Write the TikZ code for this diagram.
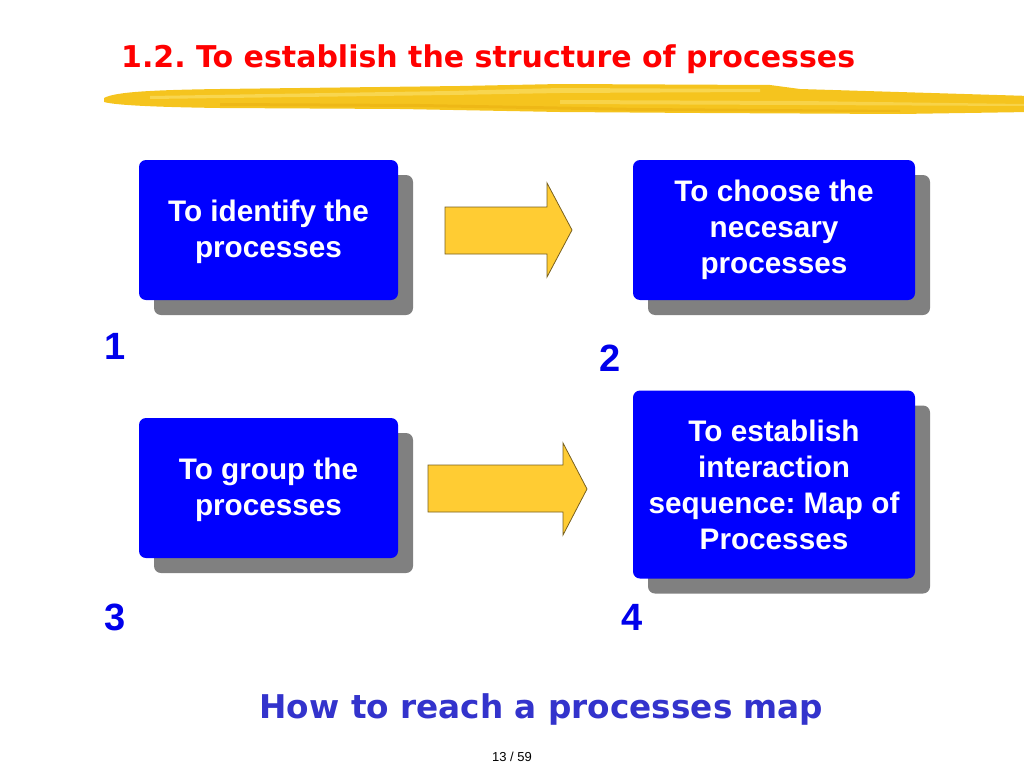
\documentclass[tikz,border=0pt]{standalone}
\usepackage{fontspec}
\setmainfont{Liberation Sans}
\newfontfamily\headfont{DejaVu Sans}
\usetikzlibrary{shadows}
\definecolor{boxblue}{RGB}{0,0,255}
\definecolor{shadowgray}{RGB}{128,128,128}
\definecolor{arrowyellow}{RGB}{255,204,51}
\definecolor{arrowline}{RGB}{120,96,30}
\definecolor{titlered}{RGB}{255,0,0}
\definecolor{numblue}{RGB}{0,0,235}
\definecolor{mapblue}{RGB}{51,51,204}
\definecolor{brushyellow}{RGB}{245,196,30}
\definecolor{brushlight}{RGB}{250,222,100}
\definecolor{brushdark}{RGB}{236,180,20}
\frenchspacing
\begin{document}
\begin{tikzpicture}[x=1pt, y=-1pt,
    stepbox/.style={rectangle, rounded corners=7pt, fill=boxblue, text=white, align=center,
      font=\bfseries\fontsize{29.7}{36}\selectfont, inner sep=0pt,
      general shadow={fill=shadowgray, shadow xshift=15pt, shadow yshift=-15pt}},
    blockarrow/.style={fill=arrowyellow, draw=arrowline, line width=0.8pt, line join=miter},
    num/.style={text=numblue, font=\bfseries\fontsize{38}{38}\selectfont, inner sep=0pt}]
    \useasboundingbox (0,0) rectangle (1024,768);

    % brush stroke under the title
    \fill[brushyellow] (104,98) .. controls (115,92) and (150,90) .. (220,89) -- (460,86) -- (560,84) -- (770,85) -- (800,89) -- (1030,96)
      -- (1030,112) -- (900,114) -- (700,113) -- (560,112) -- (400,109) -- (220,108) .. controls (150,107) and (115,105) .. (104,102) -- cycle;
    \fill[brushlight, opacity=0.7] (150,96) -- (450,91) -- (560,88) -- (760,89) -- (760,92) -- (560,93) -- (450,95) -- (150,99) -- cycle;
    \fill[brushlight, opacity=0.6] (560,100) -- (800,101) -- (1024,104) -- (1024,106) -- (800,105) -- (560,104) -- cycle;
    \fill[brushdark, opacity=0.7] (220,103) -- (420,104) -- (640,108) -- (900,110) -- (900,112) -- (640,111) -- (420,107) -- (220,106) -- cycle;

    \node[anchor=base west, inner sep=0pt, text=titlered, font=\headfont\bfseries\fontsize{30}{30}\selectfont] (title) at (121,67) {1.2. To establish the structure of processes};

    \node[stepbox, minimum width=259pt, minimum height=140pt] (identify) at (268.5,230) {\strut To identify the\\processes};
    \node[stepbox, minimum width=282pt, minimum height=140pt] (choose) at (774,230) {To choose the\\necesary\\processes};
    \node[stepbox, minimum width=259pt, minimum height=140pt] (group) at (268.5,488) {\strut To group the\\processes};
    \node[stepbox, minimum width=282pt, minimum height=188pt] (interact) at (774,484.5) {To establish\\interaction\\sequence: Map of\\Processes};

    \draw[blockarrow] (445,207) -- (547,207) -- (547,183) -- (572,230) -- (547,277) -- (547,254) -- (445,254) -- cycle;
    \draw[blockarrow] (428,465) -- (563,465) -- (563,443) -- (587,489) -- (563,535) -- (563,512) -- (428,512) -- cycle;

    \node[num] (n1) at (115,346) {1};
    \node[num] (n2) at (610,358) {2};
    \node[num] (n3) at (115,617) {3};
    \node[num] (n4) at (632,617) {4};

    \node[anchor=base, inner sep=0pt, text=mapblue, font=\headfont\bfseries\fontsize{32.7}{32.7}\selectfont] (reach) at (541.5,718) {How to reach a processes map};
    \node[anchor=base, inner sep=0pt, font=\fontsize{13}{13}\selectfont] (page) at (512,761) {13 / 59};
  \end{tikzpicture}
\end{document}
